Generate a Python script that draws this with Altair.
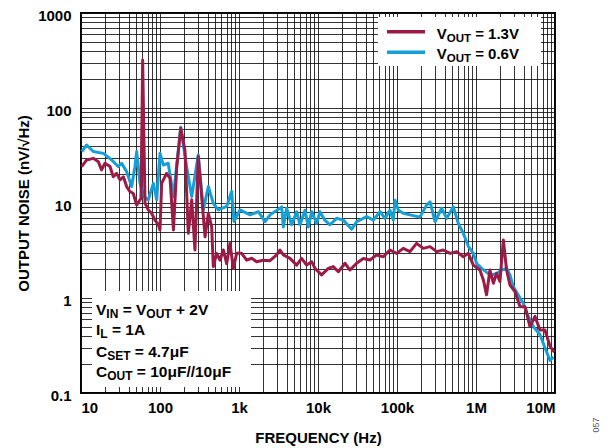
import altair as alt
import pandas as pd

# ---------------- data ----------------
maroon_freq = [10.2, 11.8, 14.3, 16.6, 18.2, 20.1, 23.3, 25.6, 28.2, 31.2, 34.4, 37.8, 41.7, 45.9,
               50.7, 55.8, 57.5, 60.3, 64.6, 71.1, 78.3, 86.5, 95.3, 100, 105, 121, 134, 148, 163,
               183, 207, 228, 252, 277, 305, 337, 372, 409, 451, 473, 521, 574, 634, 698, 769, 847,
               933, 1080, 1250, 1450, 1670, 2030, 2470, 2990, 3300, 3640, 4420, 5370, 6210, 7180,
               8320, 9160, 11100, 13500, 15600, 18100, 22000, 25400, 30800, 37500, 45500, 55200,
               67100, 81500, 99100, 120000, 146000, 177000, 215000, 262000, 318000, 385000, 469000,
               569000, 690000, 800000, 925000, 1120000, 1240000, 1360000, 1500000, 1660000, 1820000,
               2010000, 2220000, 2440000, 2690000, 3110000, 3610000, 4170000, 4820000, 5580000,
               6460000, 7460000, 8650000, 9790000]
maroon_noise = [24.2, 28.4, 29.5, 27.2, 22.3, 26.2, 24.2, 18.9, 20.5, 17.5, 18.9, 14.9, 13.2, 12.6,
                9.5, 10.8, 11.2, 320, 10.0, 8.45, 7.8, 6.6, 5.9, 5.2, 16.1, 20.5, 18.2, 5.2, 24.2,
                61.1, 36.1, 4.8, 10.8, 3.2, 30.8, 11.7, 4.4, 7.8, 5.6, 2.14, 2.95, 2.5, 3.2, 2.3, 3.76,
                2.05, 2.95, 2.95, 2.5, 2.62, 2.41, 2.5, 2.47, 2.84, 3.2, 2.84, 2.61, 2.22, 2.61, 2.22,
                2.41, 2.05, 1.75, 2.05, 2.14, 1.89, 2.32, 1.97, 2.32, 2.61, 2.51, 2.84, 2.72, 3.2,
                2.95, 3.33, 3.08, 3.76, 3.33, 3.47, 3.08, 3.2, 2.95, 3.08, 2.72, 2.95, 2.22, 1.97,
                1.55, 1.08, 1.97, 1.43, 1.82, 1.49, 4.08, 1.97, 1.37, 1.17, 0.81, 0.81, 0.50, 0.64,
                0.46, 0.46, 0.31, 0.27]

cyan_freq = [10.2, 11.8, 14.3, 19.2, 24.4, 29.6, 32.7, 37.8, 43.8, 48.2, 50.7, 55.8, 62.7, 71.1,
             82.4, 90.8, 100, 110, 127, 148, 183, 217, 252, 305, 353, 409, 473, 547, 698, 807, 865,
             1030, 1380, 1760, 2130, 2470, 3470, 3640, 4010, 4630, 5370, 5920, 6840, 7530, 8320,
             9620, 10600, 12200, 14200, 17200, 20900, 26700, 30800, 41300, 50100, 61000, 70500,
             81500, 89700, 94400, 104000, 120000, 146000, 195000, 237000, 262000, 303000, 367000,
             426000, 516000, 597000, 690000, 800000, 925000, 1020000, 1180000, 1500000, 1820000,
             2110000, 2440000, 2690000, 2960000, 3440000, 3970000, 4590000, 5320000, 6460000,
             7460000, 8650000, 9530000]
cyan_noise = [34.8, 40.8, 34.8, 33.3, 28.4, 24.2, 26.2, 21.4, 14.9, 24.2, 34.8, 16.1, 11.7, 10.8,
              16.1, 10.8, 33.3, 25.1, 26.2, 11.7, 62.7, 24.2, 11.7, 32.0, 8.45, 14.9, 9.9, 8.45, 9.2,
              13.2, 6.4, 8.45, 7.5, 8.1, 6.35, 7.5, 9.1, 5.6, 8.8, 5.9, 8.1, 5.9, 8.4, 5.6, 8.1, 6.1,
              8.1, 6.6, 5.9, 6.9, 6.6, 5.3, 6.35, 7.2, 6.6, 8.1, 6.9, 8.4, 6.6, 10.7, 8.4, 7.8, 7.5,
              7.1, 9.5, 10.3, 6.35, 8.8, 6.9, 9.1, 6.1, 4.8, 3.5, 2.95, 2.3, 2.05, 1.75, 1.8, 1.97,
              2.05, 1.75, 1.32, 1.07, 0.88, 0.64, 0.50, 0.41, 0.30, 0.22, 0.24]

x_decades = [10, 100, 1000, 10000, 100000, 1000000, 10000000]
x_labels = ["10", "100", "1k", "10k", "100k", "1M", "10M"]
y_decades = [0.1, 1, 10, 100, 1000]
y_labels = ["0.1", "1", "10", "100", "1000"]

MAROON = "#9b1b46"
CYAN = "#149fd6"
FONT = "Liberation Sans"

# ---------------- helpers ----------------
x_grid = [m * 10 ** e for e in range(1, 7) for m in range(1, 10)] + [10 ** 7]
y_grid = [round(m * 10.0 ** e, 6) for e in range(-1, 3) for m in range(1, 10)] + [1000]


def label_expr(vals, labs):
    s = "''"
    for v, l in reversed(list(zip(vals, labs))):
        s = f"datum.value == {v} ? '{l}' : ({s})"
    return s


W = {' ': 278, 'V': 667, 'I': 278, 'N': 722, 'O': 778, 'U': 722, 'T': 611, '=': 584, '+': 584,
     '2': 556, 'L': 611, '1': 556, 'A': 722, 'C': 722, 'S': 667, 'E': 667, '4': 556, '.': 278,
     '7': 556, 'μ': 611, 'F': 611, '/': 278, '0': 556, '3': 556, '6': 556}


def tw(s, size):
    return sum(W.get(c, 556) for c in s) * size / 1000.0


one = pd.DataFrame({"a": [0]})


def rich(parts, x0, base, main, sub, drop):
    out = []
    x = x0
    for txt, is_sub in parts:
        size = sub if is_sub else main
        lead = len(txt) - len(txt.lstrip(' '))
        body = txt.strip(' ')
        if body:
            out.append(
                alt.Chart(one).mark_text(align="left", baseline="alphabetic", font=FONT,
                                         fontWeight="bold", fontSize=size, color="black")
                .encode(x=alt.value(x + tw(' ' * lead, size)),
                        y=alt.value(base + (drop if is_sub else 0)),
                        text=alt.value(body)))
        x += tw(txt, size)
    return out


# ---------------- chart ----------------
df_m = pd.DataFrame({"f": maroon_freq, "n": maroon_noise})
df_c = pd.DataFrame({"f": cyan_freq, "n": cyan_noise})

xscale = alt.Scale(type="log", domain=[10, 1e7], nice=False)
yscale = alt.Scale(type="log", domain=[0.1, 1000], nice=False)

xaxis = alt.Axis(values=x_grid, labelExpr=label_expr(x_decades, x_labels), grid=True, ticks=False,
                 tickSize=0, domain=False, labelPadding=7, labelFont=FONT, labelFontSize=15,
                 labelFontWeight="bold", labelColor="black", labelOverlap=False,
                 title="FREQUENCY (Hz)", titleFont=FONT, titleFontSize=15, titleFontWeight="bold",
                 titleColor="black", titleBaseline="alphabetic", titleY=49,
                 gridColor="#111111", gridWidth=1, gridOpacity=0.85)
yaxis = alt.Axis(values=y_grid, labelExpr=label_expr(y_decades, y_labels), grid=True, ticks=False,
                 tickSize=0, domain=False, labelPadding=10, labelOffset=2.5, labelFont=FONT,
                 labelFontSize=15, labelFontWeight="bold", labelColor="black", labelOverlap=False,
                 title="OUTPUT NOISE (nV/√Hz)", titleFont=FONT, titleFontSize=15,
                 titleFontWeight="bold", titleColor="black", titleBaseline="alphabetic",
                 titleX=-53, gridColor="#111111", gridWidth=1, gridOpacity=0.85)

cyan_line = alt.Chart(df_c).mark_line(color=CYAN, strokeWidth=3, strokeJoin="round").encode(
    x=alt.X("f:Q", scale=xscale, axis=xaxis),
    y=alt.Y("n:Q", scale=yscale, axis=yaxis),
    order="f:Q")
maroon_line = alt.Chart(df_m).mark_line(color=MAROON, strokeWidth=3, strokeJoin="round").encode(
    x=alt.X("f:Q", scale=xscale),
    y=alt.Y("n:Q", scale=yscale),
    order="f:Q")

# white boxes (legend + conditions); positions in plot pixels
legend_box = alt.Chart(one).mark_rect(color="white").encode(
    x=alt.value(297), x2=alt.value(460), y=alt.value(4), y2=alt.value(53))
note_box = alt.Chart(one).mark_rect(color="white").encode(
    x=alt.value(11), x2=alt.value(170), y=alt.value(278), y2=alt.value(374))

leg_m = alt.Chart(one).mark_rule(color=MAROON, strokeWidth=3.5).encode(
    x=alt.value(306), x2=alt.value(344), y=alt.value(18.7))
leg_c = alt.Chart(one).mark_rule(color=CYAN, strokeWidth=3.5).encode(
    x=alt.value(306), x2=alt.value(344), y=alt.value(39.3))

texts = []
texts += rich([("V", False), ("OUT", True), (" = 1.3V", False)], 355.7, 26.3, 15, 11.5, 2.5)
texts += rich([("V", False), ("OUT", True), (" = 0.6V", False)], 355.7, 46.3, 15, 11.5, 2.5)

texts += rich([("V", False), ("IN", True), (" = V", False), ("OUT", True), (" + 2V", False)],
              15, 301.5, 15.5, 12, 3)
texts += rich([("I", False), ("L", True), (" = 1A", False)], 15, 322, 15.5, 12, 3)
texts += rich([("C", False), ("SET", True), (" = 4.7μF", False)], 15, 343.5, 15.5, 12, 3)
texts += rich([("C", False), ("OUT", True), (" = 10μF//10μF", False)], 15, 363.7, 15.5, 12, 3)

fig_id = alt.Chart(one).mark_text(angle=270, font=FONT, fontSize=9, color="#555555",
                                  align="center", baseline="middle").encode(
    x=alt.value(515), y=alt.value(412), text=alt.value("057"))

chart = alt.layer(cyan_line, maroon_line, legend_box, note_box, leg_m, leg_c, *texts, fig_id
                  ).properties(
    width=474, height=380,
    padding={"left": 73, "top": 5, "right": 45, "bottom": 55},
    autosize=alt.AutoSizeParams(type="none"),
).configure_view(stroke="black", strokeWidth=2)

chart.save("out.html", embed_options={"renderer": "svg", "actions": False})
